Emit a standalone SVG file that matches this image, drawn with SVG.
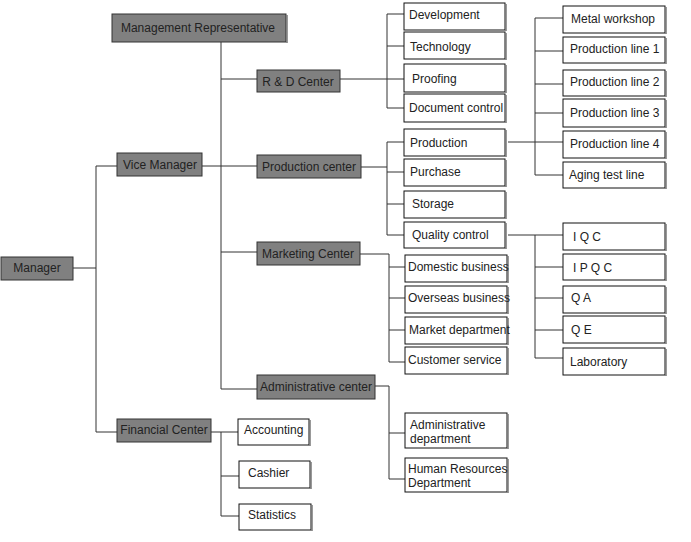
<svg xmlns="http://www.w3.org/2000/svg" width="691" height="542" viewBox="0 0 691 542">
<style>
text{font-family:"Liberation Sans",Arial,sans-serif;font-size:12px;fill:#222}
.g rect.b{fill:#808080;stroke:#333;stroke-width:1}
.w rect.b{fill:#fff;stroke:#111;stroke-width:1}
.sh{stroke:#777;stroke-width:1.5}
.c{text-anchor:middle}
#connectors path{fill:none;stroke:#333;stroke-width:1}
</style>
<rect width="691" height="542" fill="#fff"/>
<g id="connectors">
<path d="M221 42V389M221 79H257M202 166H257M221 252H257M221 389H257"/>
<path d="M73 268H96M96 166V432M96 166H117M96 432H117"/>
<path d="M211 432H238M221 432V516M221 476H239M221 516H239"/>
<path d="M340 79H387M387 14V108M387 14H404M387 46H404M387 79H404M387 108H404"/>
<path d="M361 167H387M387 142V235M387 142H404M387 172H404M387 204H404M387 235H404"/>
<path d="M508 142H535M535 18V175M535 18H563M535 51H563M535 84H563M535 113H563M535 142H563M535 175H563"/>
<path d="M508 235H535M535 235V358M535 235H563M535 267H563M535 298H563M535 330H563M535 358H563"/>
<path d="M360 254H389M389 254V362M389 267H405M389 298H405M389 330H405M389 362H405"/>
<path d="M375 386H389M389 386V479M389 433H405M389 479H405"/>
</g>
<g id="mgmt-rep" class="g"><rect class="b" x="112" y="14" width="174" height="28"/><line class="sh" x1="287" y1="15" x2="287" y2="43"/><text class="c" x="198" y="32">Management Representative</text></g>
<g id="manager" class="g"><rect class="b" x="1" y="257" width="72" height="23"/><text class="c" x="37" y="272">Manager</text></g>
<g id="vice-manager" class="g"><rect class="b" x="117" y="153" width="85" height="23"/><text class="c" x="160" y="169">Vice Manager</text></g>
<g id="rd-center" class="g"><rect class="b" x="257" y="70" width="83" height="22"/><text class="c" x="298" y="86">R &amp; D Center</text></g>
<g id="production-center" class="g"><rect class="b" x="257" y="155" width="104" height="23"/><text class="c" x="309" y="171">Production center</text></g>
<g id="marketing-center" class="g"><rect class="b" x="257" y="242" width="103" height="23"/><text class="c" x="308" y="258">Marketing Center</text></g>
<g id="admin-center" class="g"><rect class="b" x="257" y="375" width="118" height="24"/><text x="260" y="391">Administrative center</text></g>
<g id="financial-center" class="g"><rect class="b" x="117" y="419" width="94" height="23"/><text class="c" x="164" y="434">Financial Center</text></g>
<g id="development" class="w"><rect class="b" x="404" y="3" width="101" height="27"/><line class="sh" x1="506" y1="4" x2="506" y2="31"/><text x="409" y="19">Development</text></g>
<g id="technology" class="w"><rect class="b" x="404" y="32" width="101" height="27"/><line class="sh" x1="506" y1="33" x2="506" y2="60"/><text x="410" y="51">Technology</text></g>
<g id="proofing" class="w"><rect class="b" x="404" y="64" width="101" height="28"/><line class="sh" x1="506" y1="65" x2="506" y2="93"/><text x="412" y="83">Proofing</text></g>
<g id="document-control" class="w"><rect class="b" x="404" y="94" width="101" height="28"/><line class="sh" x1="506" y1="95" x2="506" y2="123"/><text x="409" y="112">Document control</text></g>
<g id="production" class="w"><rect class="b" x="404" y="129" width="101" height="27"/><line class="sh" x1="506" y1="130" x2="506" y2="157"/><text x="410" y="147">Production</text></g>
<g id="purchase" class="w"><rect class="b" x="404" y="159" width="101" height="27"/><line class="sh" x1="506" y1="160" x2="506" y2="187"/><text x="410" y="176">Purchase</text></g>
<g id="storage" class="w"><rect class="b" x="404" y="191" width="101" height="27"/><line class="sh" x1="506" y1="192" x2="506" y2="219"/><text x="412" y="208">Storage</text></g>
<g id="quality-control" class="w"><rect class="b" x="404" y="222" width="101" height="26"/><line class="sh" x1="506" y1="223" x2="506" y2="249"/><text x="412" y="239">Quality control</text></g>
<g id="metal-workshop" class="w"><rect class="b" x="563" y="6" width="102" height="27"/><line class="sh" x1="666" y1="7" x2="666" y2="34"/><text x="571" y="23">Metal workshop</text></g>
<g id="pl1" class="w"><rect class="b" x="563" y="37" width="102" height="26"/><line class="sh" x1="666" y1="38" x2="666" y2="64"/><text x="570" y="53">Production line 1</text></g>
<g id="pl2" class="w"><rect class="b" x="563" y="70" width="102" height="26"/><line class="sh" x1="666" y1="71" x2="666" y2="97"/><text x="570" y="86">Production line 2</text></g>
<g id="pl3" class="w"><rect class="b" x="563" y="99" width="102" height="28"/><line class="sh" x1="666" y1="100" x2="666" y2="128"/><text x="570" y="117">Production line 3</text></g>
<g id="pl4" class="w"><rect class="b" x="563" y="131" width="102" height="27"/><line class="sh" x1="666" y1="132" x2="666" y2="159"/><text x="570" y="148">Production line 4</text></g>
<g id="aging" class="w"><rect class="b" x="563" y="162" width="102" height="26"/><line class="sh" x1="666" y1="163" x2="666" y2="189"/><text x="569" y="179">Aging test line</text></g>
<g id="iqc" class="w"><rect class="b" x="563" y="223" width="102" height="27"/><line class="sh" x1="666" y1="224" x2="666" y2="251"/><text x="573" y="241">I Q C</text></g>
<g id="ipqc" class="w"><rect class="b" x="563" y="254" width="102" height="26"/><line class="sh" x1="666" y1="255" x2="666" y2="281"/><text x="573" y="272">I P Q C</text></g>
<g id="qa" class="w"><rect class="b" x="563" y="286" width="102" height="27"/><line class="sh" x1="666" y1="287" x2="666" y2="314"/><text x="571" y="302">Q A</text></g>
<g id="qe" class="w"><rect class="b" x="563" y="316" width="102" height="27"/><line class="sh" x1="666" y1="317" x2="666" y2="344"/><text x="571" y="334">Q E</text></g>
<g id="laboratory" class="w"><rect class="b" x="563" y="348" width="102" height="27"/><line class="sh" x1="666" y1="349" x2="666" y2="376"/><text x="570" y="366">Laboratory</text></g>
<g id="domestic" class="w"><rect class="b" x="405" y="255" width="102" height="27"/><line class="sh" x1="508" y1="256" x2="508" y2="283"/><text x="408" y="271">Domestic business</text></g>
<g id="overseas" class="w"><rect class="b" x="405" y="286" width="102" height="27"/><line class="sh" x1="508" y1="287" x2="508" y2="314"/><text x="408" y="302">Overseas business</text></g>
<g id="market-dept" class="w"><rect class="b" x="405" y="317" width="102" height="27"/><line class="sh" x1="508" y1="318" x2="508" y2="345"/><text x="409" y="334">Market department</text></g>
<g id="customer-service" class="w"><rect class="b" x="405" y="347" width="102" height="27"/><line class="sh" x1="508" y1="348" x2="508" y2="375"/><text x="408" y="364">Customer service</text></g>
<g id="admin-dept" class="w"><rect class="b" x="405" y="413" width="102" height="35"/><line class="sh" x1="508" y1="414" x2="508" y2="449"/><text x="410" y="429">Administrative</text><text x="410" y="443">department</text></g>
<g id="hr-dept" class="w"><rect class="b" x="405" y="458" width="102" height="34"/><line class="sh" x1="508" y1="459" x2="508" y2="493"/><text x="408" y="473">Human Resources</text><text x="408" y="487">Department</text></g>
<g id="accounting" class="w"><rect class="b" x="238" y="419" width="71" height="26"/><line class="sh" x1="310" y1="420" x2="310" y2="446"/><text x="244" y="434">Accounting</text></g>
<g id="cashier" class="w"><rect class="b" x="239" y="461" width="71" height="27"/><line class="sh" x1="311" y1="462" x2="311" y2="489"/><text x="248" y="477">Cashier</text></g>
<g id="statistics" class="w"><rect class="b" x="239" y="504" width="72" height="26"/><line class="sh" x1="312" y1="505" x2="312" y2="531"/><text x="248" y="519">Statistics</text></g>
</svg>
